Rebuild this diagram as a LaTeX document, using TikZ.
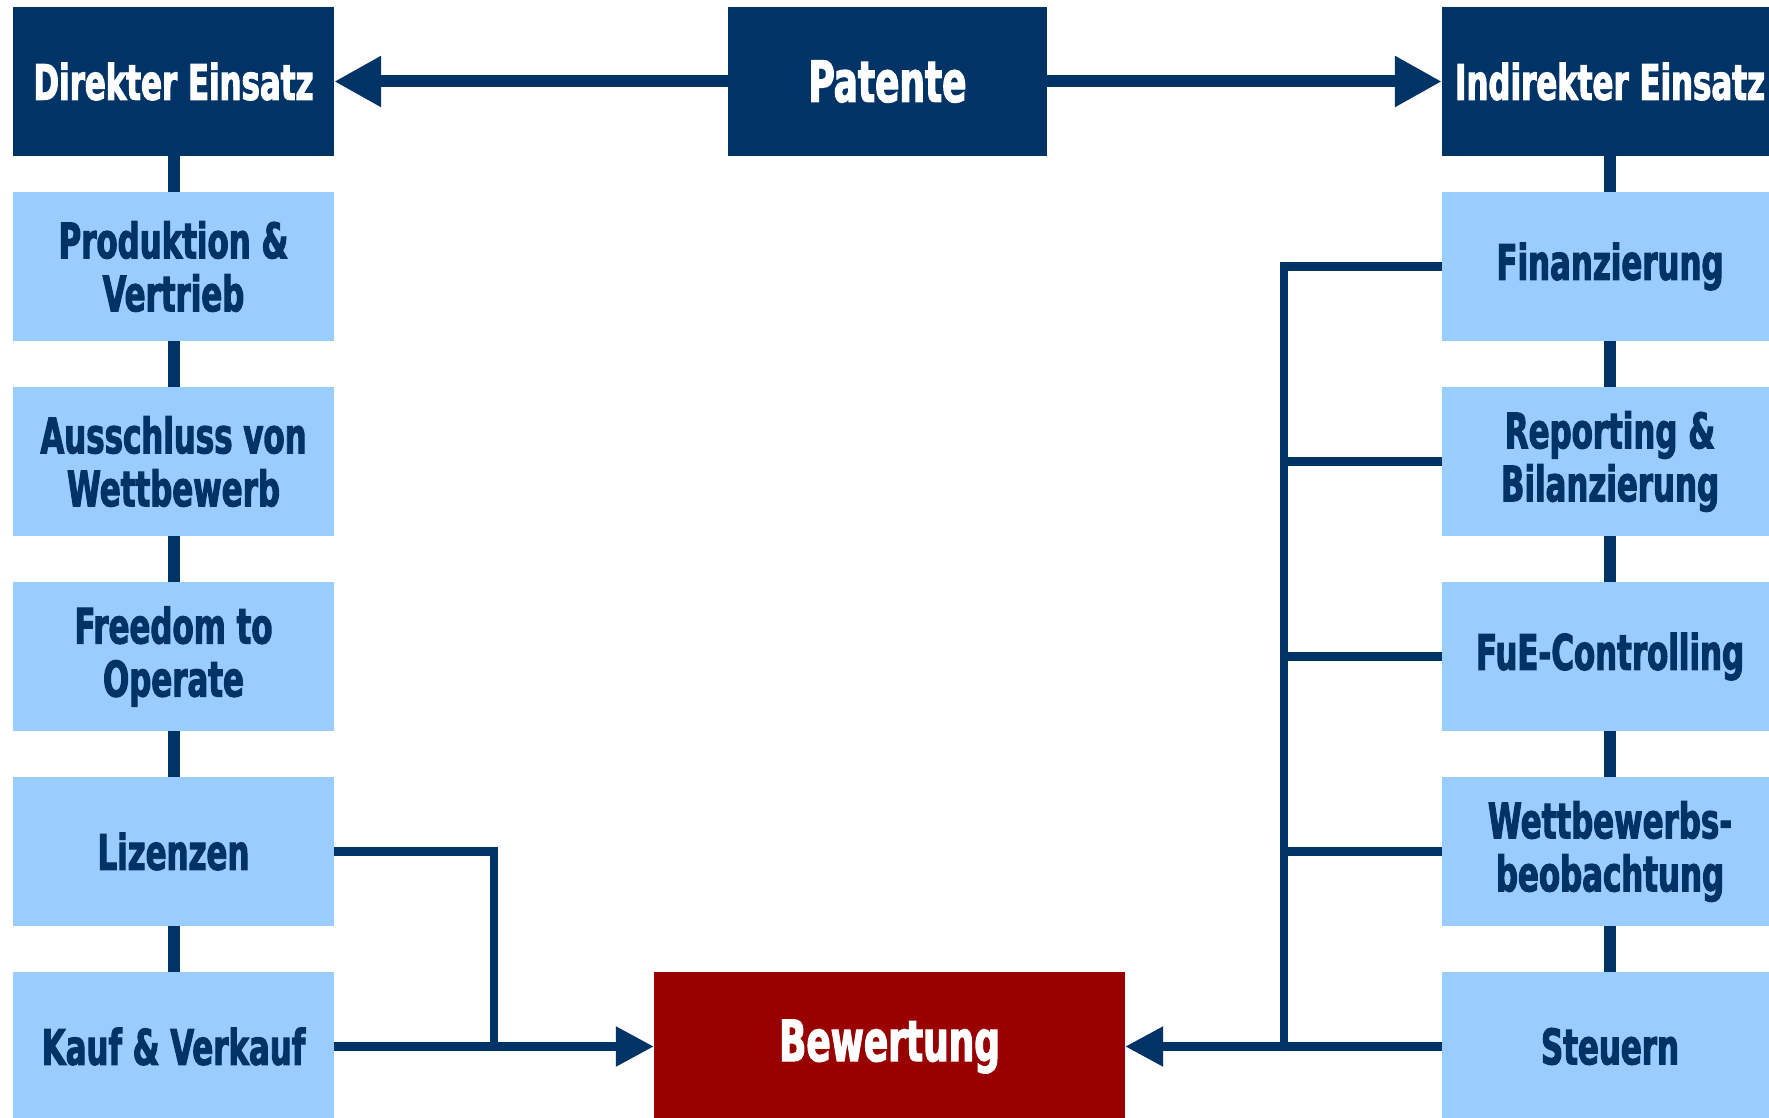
\documentclass[tikz,border=0pt]{standalone}
\usepackage{fontspec}
\newfontfamily\dfont{DejaVu Sans Condensed Bold}[FakeStretch=0.70, FakeBold=2]
\usetikzlibrary{arrows.meta}
\definecolor{navy}{HTML}{003366}
\definecolor{lblue}{HTML}{99CCFF}
\definecolor{dred}{HTML}{990000}
\begin{document}
\begin{tikzpicture}[x=1pt,y=-1pt,
  basebox/.style={rectangle, inner sep=0pt, minimum height=149pt, align=center,
    font=\dfont\fontsize{49}{53}\selectfont},
  headbox/.style={basebox, fill=navy, text=white},
  itembox/.style={basebox, fill=lblue, text=navy},
  bigtext/.style={font=\dfont\fontsize{57}{60}\selectfont},
  thickline/.style={draw=navy, line width=12pt},
  thinline/.style={draw=navy, line width=8.5pt, line join=miter},
  bigarrow/.style={thickline, -{Triangle[length=47pt, width=48pt]}},
  smallarrow/.style={thinline, -{Triangle[length=38pt, width=38pt]}}
]
\useasboundingbox (0,0) rectangle (1769,1118);
\fill[white] (0,0) rectangle (1769,1118);

% left column
\node[headbox, minimum width=321pt] (dir) at (173.5,81.5) {Direkter Einsatz};
\node[itembox, minimum width=321pt] (l1) at (173.5,266.5) {Produktion \&\\Vertrieb};
\node[itembox, minimum width=321pt] (l2) at (173.5,461.5) {Ausschluss von\\Wettbewerb};
\node[itembox, minimum width=321pt] (l3) at (173.5,656.5) {Freedom to\\Operate};
\node[itembox, minimum width=321pt] (l4) at (173.5,851.5) {Lizenzen};
\node[itembox, minimum width=321pt] (l5) at (173.5,1046.5) {Kauf \& Verkauf};

% centre
\node[headbox, bigtext, minimum width=319pt] (pat) at (887.5,81.5) {Patente};
\node[basebox, bigtext, fill=dred, text=white, minimum width=471pt] (bew) at (889.5,1046.5) {Bewertung};

% right column
\node[headbox, minimum width=336pt] (ind) at (1610,81.5) {Indirekter Einsatz};
\node[itembox, minimum width=336pt] (r1) at (1610,266.5) {Finanzierung};
\node[itembox, minimum width=336pt] (r2) at (1610,461.5) {Reporting \&\\Bilanzierung};
\node[itembox, minimum width=336pt] (r3) at (1610,656.5) {FuE-Controlling};
\node[itembox, minimum width=336pt] (r4) at (1610,851.5) {Wettbewerbs-\\beobachtung};
\node[itembox, minimum width=336pt] (r5) at (1610,1046.5) {Steuern};

% top arrows
\draw[bigarrow] (pat.west) -- (dir.east);
\draw[bigarrow] (pat.east) -- (ind.west);

% column connectors
\draw[thickline] (dir.south) -- (l1.north);
\draw[thickline] (l1.south) -- (l2.north);
\draw[thickline] (l2.south) -- (l3.north);
\draw[thickline] (l3.south) -- (l4.north);
\draw[thickline] (l4.south) -- (l5.north);
\draw[thickline] (ind.south) -- (r1.north);
\draw[thickline] (r1.south) -- (r2.north);
\draw[thickline] (r2.south) -- (r3.north);
\draw[thickline] (r3.south) -- (r4.north);
\draw[thickline] (r4.south) -- (r5.north);

% left routing
\coordinate (jl) at (494,1046.5);
\draw[thinline] (l4.east) -| (jl);
\draw[smallarrow] (l5.east) -- (bew.west);

% right bus
\coordinate (busT) at (1284,266.5);
\coordinate (busB) at (1284,1046.5);
\draw[thinline] (r1.west) -- (busT) -- (busB);
\draw[thinline] (r2.west) -- (r2.west -| busT);
\draw[thinline] (r3.west) -- (r3.west -| busT);
\draw[thinline] (r4.west) -- (r4.west -| busT);
\draw[smallarrow] (r5.west) -- (bew.east);
\end{tikzpicture}
\end{document}
